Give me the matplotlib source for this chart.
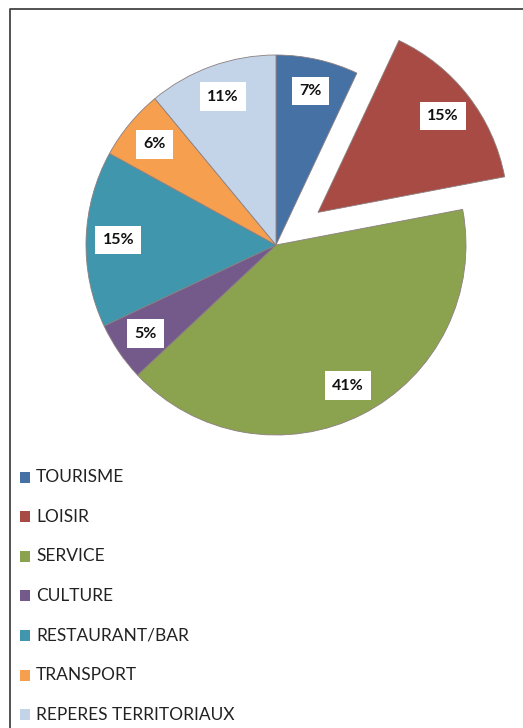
import matplotlib.pyplot as plt
from matplotlib.patches import Rectangle

# data
categories = ['TOURISME', 'LOISIR', 'SERVICE', 'CULTURE',
              'RESTAURANT/BAR', 'TRANSPORT', 'REPERES TERRITORIAUX']
shares = [7, 15, 41, 5, 15, 6, 11]
colors = ['#4571a5', '#a84b45', '#8ba34f', '#735a8b',
          '#4096ad', '#f59f4f', '#c3d4e9']
pulled_out = [0, 0.28, 0, 0, 0, 0, 0]   # fraction of the radius

W, H = 523, 728
R = 190
fig = plt.figure(figsize=(W / 100, H / 100), dpi=100)
ax = fig.add_axes([0, 0, 1, 1])
ax.axis('off')

# matplotlib's explode is in data units, so scale by the radius
wedges, texts, autotexts = ax.pie(
    shares, colors=colors, explode=[e * R for e in pulled_out],
    startangle=90, counterclock=False,
    center=(276, H - 245), radius=R, autopct='%1.0f%%', pctdistance=0.83,
    wedgeprops=dict(edgecolor='#8c7f80', linewidth=0.6),
    textprops=dict(fontsize=11.5, fontweight='bold', family='Lato', color='#111111'))
ax.set_xlim(0, W)
ax.set_ylim(0, H)
ax.set_aspect('equal')
for t in autotexts:
    t.set_bbox(dict(facecolor='white', edgecolor='none', boxstyle='square,pad=0.45'))

# legend down the left side
for i, (name, col) in enumerate(zip(categories, colors)):
    y = H - (477 + i * 39.6)
    ax.add_patch(Rectangle((20, y - 5.5), 10, 11, facecolor=col, edgecolor='none'))
    ax.text(36, y, name, fontsize=12.5, family='Lato', color='#222222', va='center', ha='left')

# frame (right and bottom edges fall outside the image)
ax.plot([9.5, 9.5, W + 5], [-5, H - 8.5, H - 8.5], color='#444444', lw=1.3, clip_on=False)

fig.savefig('out.png', dpi=100, facecolor='white')
